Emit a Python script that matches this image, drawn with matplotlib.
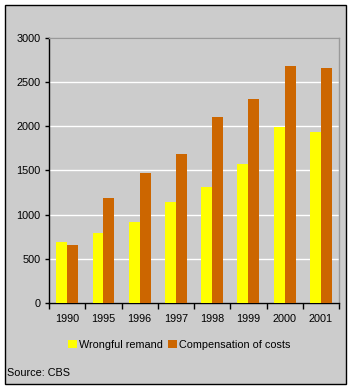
import matplotlib.pyplot as plt
from matplotlib.patches import Rectangle
import numpy as np

years = ["1990", "1995", "1996", "1997", "1998", "1999", "2000", "2001"]
wrongful_remand = [690, 790, 920, 1140, 1310, 1575, 1990, 1935]
compensation = [660, 1185, 1470, 1680, 2100, 2305, 2680, 2655]

yellow = "#ffff00"
orange = "#cc6600"
bg = "#cccccc"

plt.rcParams["font.family"] = ["Liberation Sans", "DejaVu Sans"]

fig = plt.figure(figsize=(3.52, 3.90), dpi=100)
fig.patch.set_facecolor("white")

# grey panel with black frame behind the chart
fig.patches.append(Rectangle((5 / 352, 6 / 390), 341 / 352, 379 / 390,
                             transform=fig.transFigure, facecolor=bg,
                             edgecolor="black", linewidth=1, zorder=-10))

ax = fig.add_axes([49 / 352, 87 / 390, 290 / 352, 265.3 / 390])
ax.set_facecolor(bg)

x = np.arange(len(years))
w = 0.3
ax.bar(x - w / 2, wrongful_remand, width=w, color=yellow, label="Wrongful remand", zorder=3)
ax.bar(x + w / 2, compensation, width=w, color=orange, label="Compensation of costs", zorder=3)

ax.set_xlim(-0.5, len(years) - 0.5)
ax.set_ylim(0, 3000)
ax.set_yticks(range(0, 3001, 500))
ax.yaxis.grid(True, color="white", linewidth=1, zorder=1)
ax.set_axisbelow(True)

# ticks between categories, labels centred
ax.set_xticks(np.arange(-0.5, len(years), 1))
ax.set_xticklabels([])
ax.set_xticks(x, minor=True)
ax.set_xticklabels(years, minor=True)
ax.tick_params(axis="x", which="major", direction="out", length=4, width=1, color="black")
ax.tick_params(axis="x", which="minor", length=0, pad=8, labelsize=7.8)
ax.tick_params(axis="y", direction="out", length=3, width=1, labelsize=7.8, pad=3)

for side in ["left", "bottom"]:
    ax.spines[side].set_color("black")
    ax.spines[side].set_linewidth(1)
for side in ["top", "right"]:
    ax.spines[side].set_color("#999999")
    ax.spines[side].set_linewidth(1)

fig.legend(loc="center", bbox_to_anchor=(0.51, 45 / 390), ncol=2, frameon=False,
           fontsize=7.8, handlelength=0.8, handleheight=0.8, handletextpad=0.2,
           columnspacing=0.5)

fig.text(7 / 352, 17 / 390, "Source: CBS", fontsize=7.8, va="center", ha="left")

fig.savefig("out.png", dpi=100, facecolor="white")
